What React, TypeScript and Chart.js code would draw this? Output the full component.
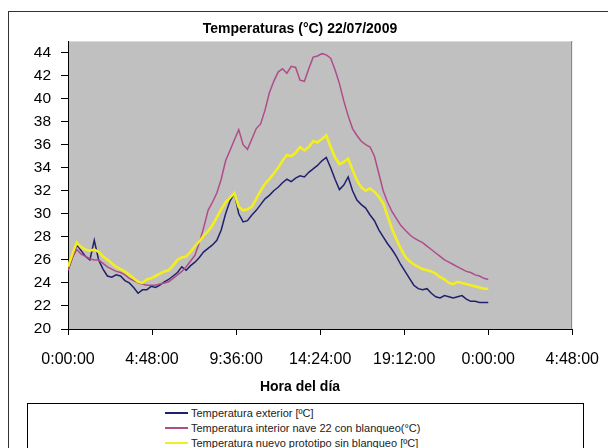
import React, { useEffect, useRef } from 'react';
import { Chart, registerables } from 'chart.js';

Chart.register(...registerables);

// Sampling step of the readings, in hours (15 minutes)
const STEP_HOURS = 0.25;

// Temperatura exterior [ºC] (one row per hour, 4 readings each)
const exterior = [
  25.1, 26.2, 27.3, 26.8,
  26.3, 26.0, 27.7, 26.0,
  25.2, 24.6, 24.5, 24.7,
  24.6, 24.2, 24.0, 23.6,
  23.1, 23.4, 23.4, 23.7,
  23.6, 23.8, 24.1, 24.3,
  24.6, 24.9, 25.4, 25.1,
  25.5, 25.8, 26.2, 26.7,
  27.0, 27.3, 27.7, 28.6,
  30.0, 31.1, 31.8, 30.0,
  29.3, 29.4, 29.9, 30.3,
  30.8, 31.3, 31.6, 32.0,
  32.3, 32.7, 33.0, 32.8,
  33.1, 33.3, 33.2, 33.6,
  33.9, 34.2, 34.6, 34.9,
  34.0, 33.0, 32.1, 32.5,
  33.2, 32.0, 31.2, 30.8,
  30.5, 29.9, 29.4, 28.6,
  28.0, 27.4, 26.9, 26.3,
  25.6, 25.0, 24.4, 23.8,
  23.5, 23.4, 23.5, 23.1,
  22.8, 22.7, 22.9, 22.8,
  22.7, 22.8, 22.9, 22.6,
  22.4, 22.4, 22.3, 22.3,
  22.3,
];

// Temperatura interior nave 22 con blanqueo (°C)
const interior = [
  25.1, 26.2, 26.9, 26.5,
  26.3, 26.1, 26.0, 26.0,
  25.7, 25.4, 25.2, 25.0,
  24.9, 24.7, 24.4, 24.2,
  24.0, 23.9, 23.8, 23.8,
  23.8, 23.9, 24.0, 24.1,
  24.4, 24.7, 25.0, 25.4,
  25.9, 26.4, 27.5, 28.8,
  30.3, 31.0, 31.8, 33.0,
  34.6, 35.5, 36.4, 37.3,
  36.0, 35.6, 36.5, 37.4,
  37.8, 39.0, 40.5, 41.5,
  42.3, 42.6, 42.2, 42.8,
  42.7, 41.6, 41.5, 42.6,
  43.6, 43.7, 43.9, 43.8,
  43.5, 42.5, 41.3, 39.8,
  38.5, 37.4, 36.8, 36.3,
  36.0, 35.8, 35.0, 33.5,
  32.0, 31.0, 30.2, 29.6,
  29.0, 28.6, 28.2, 27.9,
  27.7, 27.5, 27.2, 26.9,
  26.6, 26.3, 26.0, 25.8,
  25.6, 25.4, 25.2, 25.0,
  24.9, 24.7, 24.6, 24.4,
  24.3,
];

// Temperatura nuevo prototipo sin blanqueo [ºC]
const prototipo = [
  25.4, 26.5, 27.5, 27.1,
  26.9, 26.8, 26.9, 26.7,
  26.3, 26.0, 25.7, 25.4,
  25.2, 25.0, 24.7, 24.4,
  24.1, 24.0, 24.3, 24.4,
  24.6, 24.8, 25.0, 25.1,
  25.5, 26.0, 26.2, 26.3,
  26.7, 27.2, 27.6, 28.1,
  28.5, 29.0, 29.7, 30.4,
  31.0, 31.4, 31.8, 30.6,
  30.3, 30.4, 30.6, 31.3,
  32.0, 32.6, 33.0, 33.5,
  34.0, 34.6, 35.1, 35.0,
  35.3, 35.8, 35.5, 35.8,
  36.3, 36.2, 36.5, 36.8,
  35.8, 34.9, 34.3, 34.5,
  34.8, 33.8, 32.9, 32.3,
  32.0, 32.2, 31.9, 31.5,
  30.9, 29.8, 28.7, 27.8,
  27.0, 26.3, 25.9, 25.6,
  25.4, 25.2, 25.1, 25.0,
  24.8, 24.5, 24.3, 24.0,
  23.9, 24.1, 24.0, 23.9,
  23.8, 23.7, 23.6, 23.5,
  23.5,
];

const seriesNames = [
  'Temperatura exterior [ºC]',
  'Temperatura interior nave 22 con blanqueo(°C)',
  'Temperatura nuevo prototipo sin blanqueo [ºC]',
];
const seriesValues = [exterior, interior, prototipo];
const seriesColors = ['#20206e', '#b04c88', '#f2ee22'];
const seriesWidths = [1.5, 1.5, 2.6];

const yTicks = [20, 22, 24, 26, 28, 30, 32, 34, 36, 38, 40, 42, 44];
const xTickValues = [0, 4.8, 9.6, 14.4, 19.2, 24, 28.8];
const xTickLabels = ['0:00:00', '4:48:00', '9:36:00', '14:24:00', '19:12:00', '0:00:00', '4:48:00'];

const chartTitle = 'Temperaturas (°C) 22/07/2009';
const xTitle = 'Hora del día';

const FONT = "'Liberation Sans', Arial, sans-serif";

const plotBg = {
  id: 'plotBg',
  beforeDraw(chart: any) {
    const { ctx, chartArea: a } = chart;
    ctx.save();
    ctx.fillStyle = '#c0c0c0';
    ctx.fillRect(a.left, a.top, a.right - a.left, a.bottom - a.top);
    ctx.lineWidth = 1;
    ctx.strokeStyle = '#dadada';
    ctx.beginPath();
    ctx.moveTo(a.left, Math.round(a.top) + 0.5);
    ctx.lineTo(a.right, Math.round(a.top) + 0.5);
    ctx.stroke();
    ctx.strokeStyle = '#8a8a8a';
    ctx.beginPath();
    ctx.moveTo(Math.round(a.right) - 0.5, a.top);
    ctx.lineTo(Math.round(a.right) - 0.5, a.bottom);
    ctx.stroke();
    ctx.restore();
  },
};

export default function App() {
  const ref = useRef<HTMLCanvasElement>(null);

  useEffect(() => {
    const canvas = ref.current;
    if (!canvas) return;
    const chart = new Chart(canvas, {
      type: 'line',
      data: {
        datasets: seriesNames.map((name, k) => ({
          label: name,
          data: seriesValues[k].map((v, i) => ({ x: i * STEP_HOURS, y: v })),
          borderColor: seriesColors[k],
          backgroundColor: seriesColors[k],
          borderWidth: seriesWidths[k],
          pointRadius: 0,
          tension: 0,
          fill: false,
          order: 3 - k,
        })),
      },
      options: {
        responsive: false,
        animation: false,
        devicePixelRatio: 1,
        layout: { padding: { left: 0, right: 30, top: 0, bottom: 0 } },
        plugins: {
          legend: { display: false },
          tooltip: { enabled: false },
          title: {
            display: true,
            text: chartTitle,
            color: '#000',
            font: { family: FONT, size: 14, weight: 'bold' },
            padding: { top: 20.6, bottom: 3.6 },
          },
          subtitle: {
            display: true,
            position: 'bottom',
            text: xTitle,
            color: '#000',
            font: { family: FONT, size: 14, weight: 'bold' },
            padding: { top: 9, bottom: 4.6 },
          },
        },
        scales: {
          x: {
            type: 'linear',
            min: 0,
            max: 28.8,
            afterBuildTicks: (s: any) => {
              s.ticks = xTickValues.map((v) => ({ value: v }));
            },
            afterFit: (s: any) => {
              s.height = 40.6;
            },
            ticks: {
              callback: (_v: any, i: number) => xTickLabels[i],
              color: '#000',
              font: { family: FONT, size: 16 },
              padding: 15,
              maxRotation: 0,
              autoSkip: false,
            },
            grid: { drawOnChartArea: false, drawTicks: true, tickLength: 6, color: '#000', lineWidth: 1 },
            border: { display: true, color: '#000', width: 1 },
          },
          y: {
            type: 'linear',
            min: 20,
            max: 45,
            afterBuildTicks: (s: any) => {
              s.ticks = yTicks.map((v) => ({ value: v }));
            },
            afterFit: (s: any) => {
              s.width = 52;
            },
            ticks: {
              color: '#000',
              font: { family: FONT, size: 15.5 },
              padding: 10,
            },
            grid: { drawOnChartArea: false, drawTicks: true, tickLength: 7, color: '#000', lineWidth: 1 },
            border: { display: true, color: '#000', width: 1 },
          },
        },
      },
      plugins: [plotBg],
    } as any);
    return () => chart.destroy();
  }, []);

  const rowCenters = [9, 24, 39];

  return (
    <div
      style={{
        position: 'fixed',
        left: 0,
        top: 0,
        width: 608,
        height: 448,
        overflow: 'hidden',
        background: '#fff',
        fontFamily: FONT,
      }}
    >
      <div
        style={{
          position: 'absolute',
          left: 8,
          top: 11,
          width: 700,
          height: 500,
          border: '1px solid #333',
          boxSizing: 'border-box',
        }}
      />
      <canvas
        ref={ref}
        width={598}
        height={400}
        style={{ position: 'absolute', left: 16, top: 0, width: 598, height: 400 }}
      />
      <div
        style={{
          position: 'absolute',
          left: 27,
          top: 403,
          width: 557,
          height: 70,
          border: '1px solid #000',
          boxSizing: 'border-box',
          background: '#fff',
        }}
      >
        {seriesNames.map((name, k) => (
          <div
            key={name}
            style={{
              position: 'absolute',
              left: 137,
              top: rowCenters[k] - 7.5,
              height: 15,
              display: 'flex',
              alignItems: 'center',
              whiteSpace: 'nowrap',
            }}
          >
            <span
              style={{
                display: 'inline-block',
                width: 23,
                height: k === 2 ? 2 : 1.5,
                background: seriesColors[k],
                marginRight: 3,
              }}
            />
            <span style={{ fontSize: 11, color: '#222', lineHeight: '15px' }}>{name}</span>
          </div>
        ))}
      </div>
    </div>
  );
}
